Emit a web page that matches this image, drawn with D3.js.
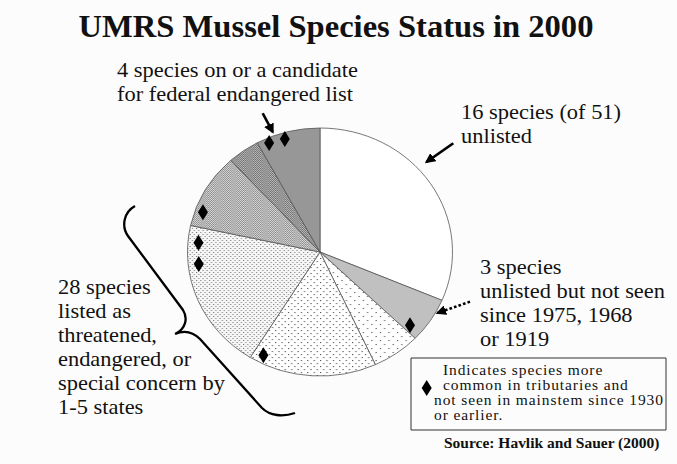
<!DOCTYPE html>
<html>
<head>
<meta charset="utf-8">
<script src="https://cdn.jsdelivr.net/npm/d3@7"></script>
<style>
  body { margin: 0; background: #fcfcfc; }
  text { font-family: "Liberation Serif", "Times New Roman", serif; fill: #111; }
</style>
</head>
<body>
<div id="plot"></div>
<script>
// Species counts per slice, clockwise from 12 o'clock (51 species in total)
const sliceNames = ["unlisted", "unlisted, not seen recently", "state listed a", "state listed b",
  "state listed c", "state listed d", "state listed e", "federal list / candidate"];
const sliceCounts = [16, 3, 3, 8, 10, 5, 2, 4];

// Diamonds: where they sit on the pie, in species units round the circle, and as a share of the radius
const diamondAt = [47.66, 48.7, 41.08, 38.9, 37.4, 18.56, 29.35];
const diamondRadius = [0.96, 0.95, 0.94, 0.92, 0.92, 0.90, 0.935];

const titleText = "UMRS Mussel Species Status in 2000";
const federalLabel = ["4 species on or a candidate", "for federal endangered list"];
const unlistedLabel = ["16 species (of 51)", "unlisted"];
const notSeenLabel = ["3 species", "unlisted but not seen", "since 1975, 1968", "or 1919"];
const stateLabel = ["28 species", "listed as", "threatened,", "endangered, or", "special concern by", "1-5 states"];
const legendLines = ["Indicates species more", "common in tributaries and", "not seen in mainstem since 1930", "or earlier."];
const sourceText = "Source: Havlik and Sauer (2000)";

const width = 677, height = 464;
// the original picture is stretched sideways a little
const sx = 132.5 / 124;
const X = px => px / sx;

const svg = d3.select("#plot").append("svg")
  .attr("width", width)
  .attr("height", height);
svg.append("rect").attr("width", width).attr("height", height).attr("fill", "#fcfcfc");

// fill patterns
const defs = svg.append("defs");
const dotPattern = (id, size, bg, dot, r) => {
  const p = defs.append("pattern").attr("id", id)
    .attr("patternUnits", "userSpaceOnUse")
    .attr("width", size).attr("height", size);
  p.append("rect").attr("width", size).attr("height", size).attr("fill", bg);
  p.append("rect").attr("x", 0).attr("y", 0).attr("width", r).attr("height", r).attr("fill", dot);
  p.append("rect").attr("x", size / 2).attr("y", size / 2).attr("width", r).attr("height", r).attr("fill", dot);
};
dotPattern("patC", 8, "#ffffff", "#555", 1.1);
dotPattern("patD", 6, "#ffffff", "#555", 1.1);
dotPattern("patE", 4, "#f6f6f6", "#777", 1);
dotPattern("patF", 2, "#dcdcdc", "#8a8a8a", 1);
dotPattern("patG", 2, "#bdbdbd", "#6e6e6e", 1);

const sliceFill = ["#ffffff", "#c0c0c0", "url(#patC)", "url(#patD)", "url(#patE)",
  "url(#patF)", "url(#patG)", "#979797"];

const g = svg.append("g").attr("transform", `scale(${sx},1)`);

// pie
const cx = X(320), cy = 252, r = 124;
const total = d3.sum(sliceCounts);
const angle = d3.scaleLinear([0, total], [0, 2 * Math.PI]);
const pie = d3.pie().sort(null).value(d => d);
const arc = d3.arc().innerRadius(0).outerRadius(r);

const pieG = g.append("g").attr("transform", `translate(${cx},${cy})`);
pieG.selectAll("path")
  .data(pie(sliceCounts))
  .join("path")
    .attr("d", arc)
    .attr("fill", (d, i) => sliceFill[i])
    .attr("stroke", "#555")
    .attr("stroke-width", 0.8)
    .attr("vector-effect", "non-scaling-stroke")
    .attr("data-name", (d, i) => sliceNames[i]);

// diamonds
const diamond = "M0,-8L4.7,0L0,8L-4.7,0Z";
pieG.selectAll("path.diamond")
  .data(diamondAt)
  .join("path")
    .attr("class", "diamond")
    .attr("d", diamond)
    .attr("fill", "#000")
    .attr("transform", (d, i) => {
      const a = angle(d), rr = r * diamondRadius[i];
      return `translate(${rr * Math.sin(a)},${-rr * Math.cos(a)})`;
    });

// arrows
defs.append("marker").attr("id", "head")
  .attr("viewBox", "0 0 10 10").attr("refX", 8).attr("refY", 5)
  .attr("markerWidth", 4).attr("markerHeight", 4)
  .attr("orient", "auto")
  .append("path").attr("d", "M0,0L10,5L0,10Z").attr("fill", "#000");

const arrow = (x1, y1, x2, y2, dash) => g.append("line")
  .attr("x1", X(x1)).attr("y1", y1).attr("x2", X(x2)).attr("y2", y2)
  .attr("stroke", "#000").attr("stroke-width", 2.5)
  .attr("stroke-dasharray", dash || null)
  .attr("marker-end", "url(#head)");
arrow(262.7, 113.3, 272.7, 132);
arrow(453.3, 143.3, 426.5, 162);
arrow(470, 301.7, 437.5, 313, "2.5,2");

// brace
const brace = d3.path();
brace.moveTo(X(135), 206);
brace.bezierCurveTo(X(124), 212, X(121), 226, X(128), 236);
brace.lineTo(X(183), 310);
brace.bezierCurveTo(X(188), 318, X(186), 329, X(175), 334);
brace.bezierCurveTo(X(184), 330, X(192), 331, X(200), 339);
brace.lineTo(X(262), 408);
brace.bezierCurveTo(X(270), 416, X(283), 417, X(295), 413);
g.append("path").attr("d", brace.toString())
  .attr("fill", "none").attr("stroke", "#000").attr("stroke-width", 2.3)
  .attr("vector-effect", "non-scaling-stroke");

// text
g.append("text")
  .attr("x", X(336)).attr("y", 37)
  .attr("text-anchor", "middle")
  .style("font-size", "30.5px").style("font-weight", "bold")
  .text(titleText);

const lines = (arr, x, y, step, size) => arr.forEach((t, i) =>
  g.append("text").attr("x", X(x)).attr("y", y + i * step)
    .style("font-size", size).text(t));
lines(federalLabel, 117, 77, 24, "21px");
lines(unlistedLabel, 461, 119, 24, "21px");
lines(notSeenLabel, 480, 274, 24, "21px");
lines(stateLabel, 58, 294, 24, "21px");

// legend
g.append("rect")
  .attr("x", X(411)).attr("y", 358).attr("width", X(666) - X(411)).attr("height", 72)
  .attr("fill", "none").attr("stroke", "#333").attr("stroke-width", 1)
  .attr("vector-effect", "non-scaling-stroke");
g.append("path").attr("d", diamond).attr("fill", "#000")
  .attr("transform", `translate(${X(426.7)},388)`);
legendLines.forEach((t, i) =>
  g.append("text").attr("x", X(i < 2 ? 443 : 434)).attr("y", 375 + i * 15)
    .style("font-size", "14.5px").style("letter-spacing", "0.85px").text(t));

g.append("text").attr("x", X(444)).attr("y", 448)
  .style("font-size", "14.5px").style("font-weight", "bold").text(sourceText);
</script>
</body>
</html>
